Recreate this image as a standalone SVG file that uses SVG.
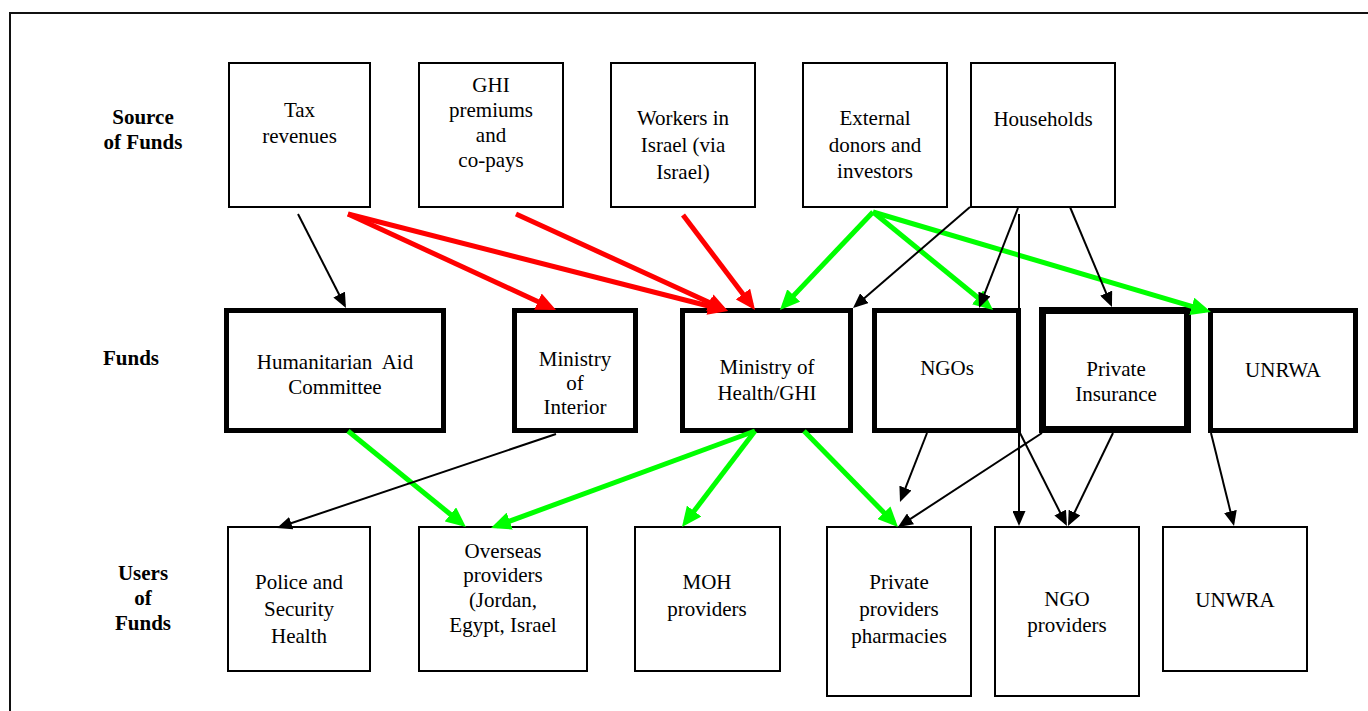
<svg xmlns="http://www.w3.org/2000/svg" width="1368" height="711" viewBox="0 0 1368 711">
<style>
.bx{fill:#fff;stroke:#000;stroke-width:2}
.tk{fill:#fff;stroke:#000;stroke-width:5}
.tk7{fill:#fff;stroke:#000;stroke-width:7}
.t{font-family:"Liberation Serif","Times New Roman",serif;font-size:21px;text-anchor:middle;fill:#000}
.lb{font-family:"Liberation Serif","Times New Roman",serif;font-size:21px;font-weight:bold;text-anchor:middle;fill:#000}
.r{stroke:#ff0000;stroke-width:5;fill:none;marker-end:url(#aR)}
.g{stroke:#00ff00;stroke-width:5;fill:none;marker-end:url(#aG)}
.k{stroke:#000;stroke-width:2;fill:none;marker-end:url(#aK)}
</style>
<defs>
<marker id="aR" markerUnits="userSpaceOnUse" markerWidth="20" markerHeight="18" refX="14" refY="9" orient="auto"><path d="M0,0 L20,9 L0,18 z" fill="#ff0000"/></marker>
<marker id="aG" markerUnits="userSpaceOnUse" markerWidth="20" markerHeight="18" refX="14" refY="9" orient="auto"><path d="M0,0 L20,9 L0,18 z" fill="#00ff00"/></marker>
<marker id="aK" markerUnits="userSpaceOnUse" markerWidth="15" markerHeight="13" refX="12" refY="6.5" orient="auto"><path d="M0,0 L15,6.5 L0,13 z" fill="#000"/></marker>
</defs>
<rect width="1368" height="711" fill="#fff"/>
<path d="M10,720 V13 H1375" fill="none" stroke="#111" stroke-width="2"/>

<g id="row-labels">
<text class="lb" x="143" y="124">Source</text>
<text class="lb" x="143" y="149">of Funds</text>
<text class="lb" x="103" y="365" style="text-anchor:start">Funds</text>
<text class="lb" x="143" y="580">Users</text>
<text class="lb" x="143" y="605">of</text>
<text class="lb" x="143" y="630">Funds</text>
</g>

<g id="tax"><rect class="bx" x="229" y="63" width="141" height="144"/>
<text class="t" x="299.5" y="117">Tax</text><text class="t" x="299.5" y="143">revenues</text></g>
<g id="ghi"><rect class="bx" x="419" y="63" width="144" height="144"/>
<text class="t" x="491" y="92">GHI</text><text class="t" x="491" y="117">premiums</text><text class="t" x="491" y="142">and</text><text class="t" x="491" y="167">co-pays</text></g>
<g id="workers"><rect class="bx" x="611" y="63" width="144" height="144"/>
<text class="t" x="683" y="125">Workers in</text><text class="t" x="683" y="152">Israel (via</text><text class="t" x="683" y="179">Israel)</text></g>
<g id="external"><rect class="bx" x="803" y="63" width="144" height="144"/>
<text class="t" x="875" y="125">External</text><text class="t" x="875" y="152">donors and</text><text class="t" x="875" y="178">investors</text></g>
<g id="households"><rect class="bx" x="971" y="63" width="144" height="144"/>
<text class="t" x="1043" y="126">Households</text></g>

<g id="humanitarian"><rect class="tk" x="226.5" y="310.5" width="217" height="120"/>
<text class="t" x="335" y="369" xml:space="preserve">Humanitarian  Aid</text><text class="t" x="335" y="394">Committee</text></g>
<g id="interior"><rect class="tk" x="514.5" y="310.5" width="121" height="120"/>
<text class="t" x="575" y="366">Ministry</text><text class="t" x="575" y="390">of</text><text class="t" x="575" y="414">Interior</text></g>
<g id="moh"><rect class="tk" x="682.5" y="310.5" width="168" height="120"/>
<text class="t" x="767" y="374">Ministry of</text><text class="t" x="767" y="400">Health/GHI</text></g>
<g id="ngos"><rect class="tk" x="874.5" y="310.5" width="144" height="120"/>
<text class="t" x="947" y="375">NGOs</text></g>
<g id="private-insurance"><rect class="tk7" x="1042.5" y="310.5" width="145" height="119"/>
<text class="t" x="1116" y="376">Private</text><text class="t" x="1116" y="401">Insurance</text></g>
<g id="unrwa"><rect class="tk" x="1210.5" y="310.5" width="145" height="120"/>
<text class="t" x="1283" y="377">UNRWA</text></g>

<g id="police"><rect class="bx" x="228" y="527" width="142" height="144"/>
<text class="t" x="299" y="589">Police and</text><text class="t" x="299" y="616">Security</text><text class="t" x="299" y="643">Health</text></g>
<g id="overseas"><rect class="bx" x="419" y="527" width="168" height="144"/>
<text class="t" x="503" y="558">Overseas</text><text class="t" x="503" y="582">providers</text><text class="t" x="503" y="607">(Jordan,</text><text class="t" x="503" y="632">Egypt, Israel</text></g>
<g id="moh-providers"><rect class="bx" x="635" y="527" width="145" height="144"/>
<text class="t" x="707" y="589">MOH</text><text class="t" x="707" y="616">providers</text></g>
<g id="private-providers"><rect class="bx" x="827" y="527" width="144" height="169"/>
<text class="t" x="899" y="589">Private</text><text class="t" x="899" y="616">providers</text><text class="t" x="899" y="643">pharmacies</text></g>
<g id="ngo-providers"><rect class="bx" x="995" y="527" width="144" height="169"/>
<text class="t" x="1067" y="606">NGO</text><text class="t" x="1067" y="632">providers</text></g>
<g id="unwra"><rect class="bx" x="1163" y="527" width="144" height="144"/>
<text class="t" x="1235" y="607">UNWRA</text></g>

<g id="connectors">
<path class="r" d="M348,214 L550.6,307.5"/>
<path class="r" d="M348,214 L722.2,309.5"/>
<path class="r" d="M516,214 L722.5,308.5"/>
<path class="r" d="M683,215 L751.4,305.2"/>
<path class="g" d="M873,212 L784.1,305.6"/>
<path class="g" d="M873,212 L988.4,306.2"/>
<path class="g" d="M873,212 L1205.2,310.3"/>
<path class="g" d="M348,431 L461.3,523.2"/>
<path class="g" d="M755,431 L496.6,525.9"/>
<path class="g" d="M755,431 L685.6,522.2"/>
<path class="g" d="M804,431 L893.8,522.7"/>
<path class="k" d="M298,214 L344.6,305.3"/>
<path class="k" d="M970,207 L855.3,306"/>
<path class="k" d="M1018,208 L980.1,305.2"/>
<path class="k" d="M1019,214 L1019,523"/>
<path class="k" d="M1070,207 L1110.8,304.2"/>
<path class="k" d="M556,434 L279.8,527"/>
<path class="k" d="M927,433 L901.1,499.2"/>
<path class="k" d="M1042,433 L900.5,525.4"/>
<path class="k" d="M1020,433 L1065.6,523.3"/>
<path class="k" d="M1113,433 L1069.3,523.3"/>
<path class="k" d="M1211,433 L1233.3,523.1"/>
</g>
</svg>
